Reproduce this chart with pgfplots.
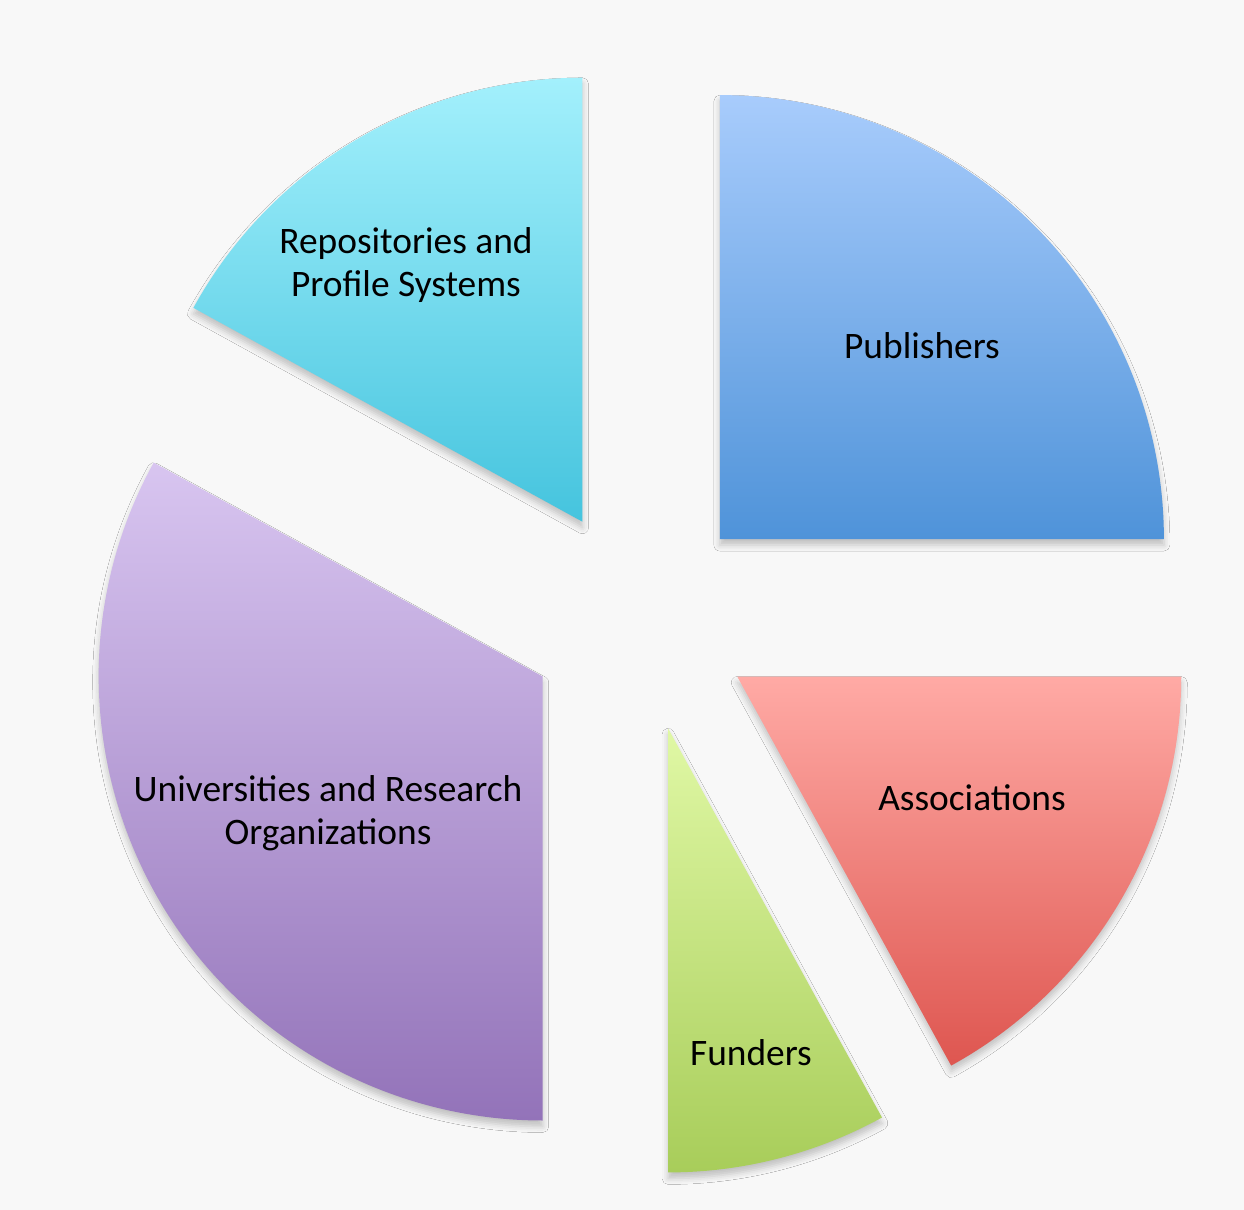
\documentclass[border=0pt]{standalone}
\usepackage{pgfplots}
\pgfplotsset{compat=1.18}
\usepackage{fontspec}
\setmainfont{Carlito}
\usetikzlibrary{shadows.blur}
\definecolor{bgc}{HTML}{F8F8F8}
\definecolor{pubT}{HTML}{A8CCFC}\definecolor{pubB}{HTML}{4F93D9}
\definecolor{repT}{HTML}{A3F0FC}\definecolor{repB}{HTML}{45C4DE}
\definecolor{uniT}{HTML}{D8C5F0}\definecolor{uniB}{HTML}{9373B9}
\definecolor{funT}{HTML}{E0F8A5}\definecolor{funB}{HTML}{A8CD5A}
\definecolor{assT}{HTML}{FFAAA5}\definecolor{assB}{HTML}{DE5650}
% slice: start percent, end percent, top colour, bottom colour
\newcommand{\slice}[4]{%
  \shade[top color=#3, bottom color=#4,
    blur shadow={shadow xshift=0pt, shadow yshift=-3pt, shadow blur radius=3pt, shadow opacity=22}]
    ([shift={({1.8*(#1+#2)}:56.5pt)}]axis cs:640,591) -- ++({3.6*#1}:222pt)
    arc[start angle={3.6*#1}, end angle={3.6*#2}, radius=222pt] -- cycle;}
\begin{document}
\begin{tikzpicture}
\begin{axis}[
  x=0.5pt, y=0.5pt, xmin=0, xmax=1244, ymin=0, ymax=1210,
  hide axis, clip=false, scale only axis,
  nodes={font=\fontsize{18.7}{21.5}\selectfont, align=center, text=black},
]
\fill[bgc] (axis cs:0,0) rectangle (axis cs:1244,1210);
% values (percent): Publishers 25, Repositories 17, Universities 33, Funders 8, Associations 17
\slice{0}{25}{pubT}{pubB}
\slice{25}{42}{repT}{repB}
\slice{42}{75}{uniT}{uniB}
\slice{75}{83}{funT}{funB}
\slice{83}{100}{assT}{assB}
\node at (axis cs:406,945) {Repositories and\\Profile Systems};
\node at (axis cs:922,864) {Publishers};
\node at (axis cs:328,397) {Universities and Research\\Organizations};
\node at (axis cs:972,412) {Associations};
\node at (axis cs:751,157) {Funders};
\end{axis}
\end{tikzpicture}
\end{document}
